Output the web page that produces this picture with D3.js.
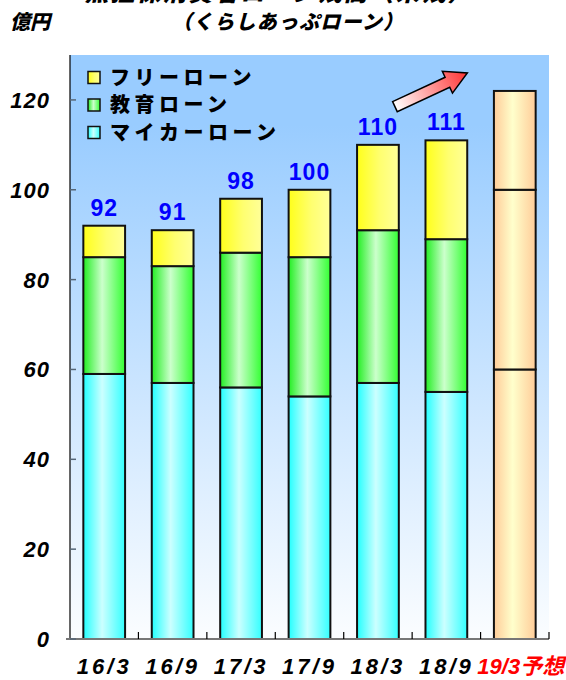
<!DOCTYPE html>
<html><head><meta charset="utf-8">
<script src="https://cdn.jsdelivr.net/npm/d3@7"></script>
<style>html,body{margin:0;padding:0;background:#fff;}svg{display:block;}</style>
</head><body>
<script>
// ---- data ----
const categories = ["16/3", "16/9", "17/3", "17/9", "18/3", "18/9", "19/3予想"];
const myCarLoan   = [59, 57, 56, 54, 57, 55];
const educationLoan = [26, 26, 30, 31, 34, 34];
const freeLoan    = [7, 8, 12, 15, 19, 22];
const totals      = [92, 91, 98, 100, 110, 111];
const forecastSegments = [60, 40, 22]; // 19/3予想
const seriesNames = ["マイカーローン", "教育ローン", "フリーローン"];
const legendOrder = ["フリーローン", "教育ローン", "マイカーローン"];
const yTicks = [0, 20, 40, 60, 80, 100, 120];
const titleLine1 = "無担保消費者ローン残高（末残）";
const titleLine2 = "（くらしあっぷローン）";
const unitLabel = "億円";

// ---- layout ----
const W = 566, H = 680;
const m = {left: 70, right: 17, top: 55, bottom: 41};
const svg = d3.select("body").append("svg").attr("width", W).attr("height", H);
const defs = svg.append("defs");

function hGrad(id, stops) {
  const g = defs.append("linearGradient").attr("id", id).attr("x1", "0").attr("x2", "1").attr("y1", "0").attr("y2", "0");
  stops.forEach(s => g.append("stop").attr("offset", s[0]).attr("stop-color", s[1]));
}
hGrad("gYellow", [["0%", "#ffff1a"], ["55%", "#ffff70"], ["100%", "#ffff99"]]);
hGrad("gGreen", [["0%", "#22ee22"], ["45%", "#ccffcc"], ["100%", "#33ff33"]]);
hGrad("gCyan", [["0%", "#22ffff"], ["45%", "#ccffff"], ["100%", "#33ffff"]]);
hGrad("gPeach", [["0%", "#ffcc99"], ["45%", "#ffffcc"], ["100%", "#ffcc99"]]);
const bg = defs.append("linearGradient").attr("id", "gBg").attr("x1", "0").attr("x2", "0").attr("y1", "0").attr("y2", "1");
bg.append("stop").attr("offset", "0%").attr("stop-color", "#99ccff");
bg.append("stop").attr("offset", "12%").attr("stop-color", "#99ccff");
bg.append("stop").attr("offset", "100%").attr("stop-color", "#fbfdff");
const ar = defs.append("linearGradient").attr("id", "gArrow").attr("x1", "0").attr("x2", "1").attr("y1", "0").attr("y2", "0");
ar.append("stop").attr("offset", "0%").attr("stop-color", "#ffffff");
ar.append("stop").attr("offset", "100%").attr("stop-color", "#ff3333");

const seriesFill = {"マイカーローン": "url(#gCyan)", "教育ローン": "url(#gGreen)", "フリーローン": "url(#gYellow)"};

const x = d3.scaleBand().domain(categories).range([m.left, W - m.right]).paddingInner(0.39).paddingOuter(0.195);
const y = d3.scaleLinear().domain([0, 130]).range([H - m.bottom, m.top]);

// plot background
svg.append("rect").attr("x", m.left).attr("y", m.top).attr("width", W - m.right - m.left)
  .attr("height", H - m.bottom - m.top).attr("fill", "url(#gBg)");

// stacked bars
const rows = categories.slice(0, 6).map((c, i) => ({cat: c, "マイカーローン": myCarLoan[i], "教育ローン": educationLoan[i], "フリーローン": freeLoan[i]}));
const stacked = d3.stack().keys(seriesNames)(rows);
const gBars = svg.append("g");
stacked.forEach(s => {
  gBars.selectAll(null).data(s).enter().append("rect")
    .attr("x", d => x(d.data.cat)).attr("width", x.bandwidth())
    .attr("y", d => y(d[1])).attr("height", d => y(d[0]) - y(d[1]))
    .attr("fill", seriesFill[s.key]).attr("stroke", "#111").attr("stroke-width", 2);
});
// forecast bar
const fc = categories[6];
const fStack = d3.stack().keys(d3.range(forecastSegments.length))([forecastSegments]);
fStack.forEach(s => {
  const d = s[0];
  gBars.append("rect").attr("x", x(fc)).attr("width", x.bandwidth())
    .attr("y", y(d[1])).attr("height", y(d[0]) - y(d[1]))
    .attr("fill", "url(#gPeach)").attr("stroke", "#111").attr("stroke-width", 2);
});

// value labels
svg.selectAll(".vl").data(totals).enter().append("text")
  .attr("x", (d, i) => x(categories[i]) + x.bandwidth() / 2)
  .attr("y", d => y(d) - 10)
  .attr("text-anchor", "middle").attr("fill", "#0000ff")
  .attr("font-family", "Liberation Sans, Arial, sans-serif").attr("font-weight", "bold")
  .attr("font-size", 23).attr("letter-spacing", 1).text(d => d);

// axes
const axG = svg.append("g");
axG.append("line").attr("x1", m.left).attr("x2", m.left).attr("y1", m.top).attr("y2", y(0)).attr("stroke", "#000").attr("stroke-width", 1.2);
axG.append("line").attr("x1", m.left - 4).attr("x2", W - m.right).attr("y1", y(0)).attr("y2", y(0)).attr("stroke", "#777").attr("stroke-width", 2);
// y ticks inward
axG.selectAll(".yt").data(yTicks).enter().append("line")
  .attr("x1", m.left).attr("x2", m.left + 6).attr("y1", d => y(d)).attr("y2", d => y(d))
  .attr("stroke", "#556677").attr("stroke-width", 1.5);
axG.selectAll(".yl").data(yTicks).enter().append("text")
  .attr("x", 50).attr("y", d => y(d)).attr("dy", "0.36em").attr("text-anchor", "end")
  .attr("font-family", "Liberation Sans, Arial, sans-serif").attr("font-weight", "bold").attr("font-style", "italic")
  .attr("font-size", 22).attr("letter-spacing", 1).attr("fill", "#000").text(d => d);
// x ticks at category boundaries, inward
const bounds = categories.map(c => x(c) - x.step() * x.paddingInner() / 2 + x.step());
axG.selectAll(".xt").data(bounds).enter().append("line")
  .attr("x1", d => d).attr("x2", d => d).attr("y1", y(0)).attr("y2", y(0) - 7)
  .attr("stroke", "#000").attr("stroke-width", 1.2);
axG.selectAll(".xl").data(categories).enter().append("text")
  .attr("x", d => x(d) + x.bandwidth() / 2 + (d === fc ? 6 : 0)).attr("y", y(0) + 35)
  .attr("text-anchor", "middle")
  .attr("font-family", "Liberation Sans, 'Noto Sans CJK JP', sans-serif").attr("font-weight", "bold").attr("font-style", "italic")
  .attr("font-size", 22).attr("letter-spacing", d => d === fc ? 0 : 3)
  .attr("fill", d => d === fc ? "#ff0000" : "#000").text(d => d);

// legend
const legColor = {"フリーローン": "url(#gYellow)", "教育ローン": "url(#gGreen)", "マイカーローン": "url(#gCyan)"};
const lg = svg.append("g");
legendOrder.forEach((name, i) => {
  const cy = 77.5 + i * 27.5;
  lg.append("rect").attr("x", 88).attr("y", cy - 6).attr("width", 12).attr("height", 12)
    .attr("fill", legColor[name]).attr("stroke", "#111").attr("stroke-width", 1.5);
  lg.append("text").attr("x", 110).attr("y", cy).attr("dy", "0.36em")
    .attr("font-family", "'Noto Sans CJK JP', sans-serif").attr("font-weight", 900)
    .attr("font-size", 20).attr("letter-spacing", 4.5).attr("fill", "#000").text(name);
});

// arrow annotation (anchored to scales)
const tail = [x(categories[4]) + x.bandwidth() / 2 + 17, y(118.5)];
const tip = [x(categories[5]) + x.bandwidth() / 2 + 21, y(126)];
const len = Math.hypot(tip[0] - tail[0], tip[1] - tail[1]);
const ang = Math.atan2(tip[1] - tail[1], tip[0] - tail[0]) * 180 / Math.PI;
const hw = 5.5, headL = 22, headW = 12;
const arrowPath = `M0,${-hw} L${len - headL},${-hw} L${len - headL},${-headW} L${len},0 L${len - headL},${headW} L${len - headL},${hw} L0,${hw} Z`;
svg.append("path").attr("d", arrowPath)
  .attr("transform", `translate(${tail[0]},${tail[1]}) rotate(${ang})`)
  .attr("fill", "url(#gArrow)").attr("stroke", "#000").attr("stroke-width", 1.5).attr("stroke-linejoin", "miter");

// titles
svg.append("text").attr("x", 279).attr("y", -8).attr("dy", "0.36em").attr("text-anchor", "middle")
  .attr("font-family", "'Noto Sans CJK JP', sans-serif").attr("font-weight", 900).attr("font-style", "italic")
  .attr("font-size", 24).attr("letter-spacing", 2).attr("fill", "#000").text(titleLine1);
svg.append("text").attr("x", 288).attr("y", 22).attr("dy", "0.36em").attr("text-anchor", "middle")
  .attr("font-family", "'Noto Sans CJK JP', sans-serif").attr("font-weight", 900).attr("font-style", "italic")
  .attr("font-size", 20).attr("letter-spacing", 1.2).attr("fill", "#000").text(titleLine2);
svg.append("text").attr("x", 10).attr("y", 22).attr("dy", "0.36em")
  .attr("font-family", "'Noto Sans CJK JP', sans-serif").attr("font-weight", 900).attr("font-style", "italic")
  .attr("font-size", 20).attr("fill", "#000").text(unitLabel);
</script>
</body></html>
